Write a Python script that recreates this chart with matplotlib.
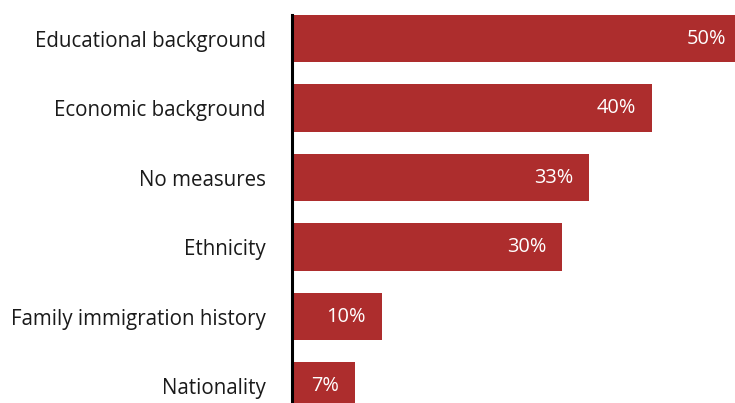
import matplotlib.pyplot as plt

# Data
categories = ['Educational background', 'Economic background', 'No measures',
              'Ethnicity', 'Family immigration history', 'Nationality']
values = [50, 40, 33, 30, 10, 7]
labels = ['50%', '40%', '33%', '30%', '10%', '7%']

bar_color = '#AD2D2D'

plt.rcParams['font.family'] = ['Open Sans', 'DejaVu Sans']

fig = plt.figure(figsize=(7.35, 4.03), dpi=100)
ax = fig.add_axes([292 / 735, 0, 1 - 292 / 735, (403 - 15) / 403])

ypos = list(range(len(categories)))
ax.barh(ypos, values, height=0.68, color=bar_color)

for y, v, lab in zip(ypos, values, labels):
    ax.annotate(lab, xy=(v, y), xytext=(-11.5, 0), textcoords='offset points',
                ha='right', va='center', color='white', fontsize=14.4,
                annotation_clip=False)

ax.set_xlim(0, 49.2)
ax.set_ylim(5.245, -0.34)

ax.set_yticks(ypos)
ax.set_yticklabels(categories, fontsize=14.8, color='#1a1a1a')
ax.tick_params(axis='y', length=0, pad=19)
ax.set_xticks([])

for side in ['top', 'right', 'bottom']:
    ax.spines[side].set_visible(False)
ax.spines['left'].set_linewidth(2.2)
ax.spines['left'].set_color('black')

fig.savefig('out.png', dpi=100)
